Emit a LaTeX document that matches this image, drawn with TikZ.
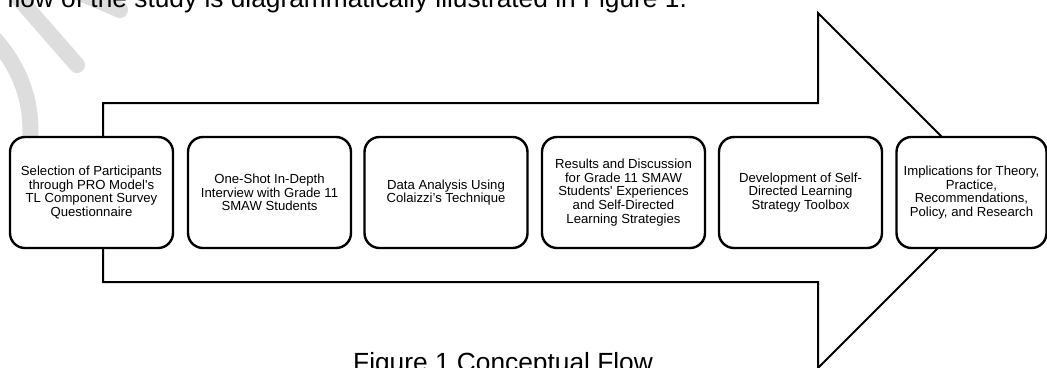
\documentclass[tikz,border=0pt]{standalone}
\usepackage{fontspec}
\setmainfont{Liberation Sans}
\usepackage{tikz}
\pgfdeclarelayer{bg}
\pgfsetlayers{bg,main}
\definecolor{wmgrey}{RGB}{221,221,221}
\tikzset{
    stage/.style={rectangle, draw, fill=white, line width=2.4bp, rounded corners=15bp,
        minimum width=163bp, minimum height=111bp, inner sep=0bp, align=center,
        font=\fontsize{13.2}{13.8}\selectfont}
}
\tikzset{plain/.style={inner sep=0bp, anchor=base west, font=\fontsize{26.4}{30}\selectfont}}
\tikzset{wm/.style={wmgrey, line width=16bp, line cap=round}}

\begin{document}
\begin{tikzpicture}[x=1bp, y=-1bp]
    \useasboundingbox (0,0) rectangle (1047,367);

    \coordinate (tl) at (103, 103);
    \coordinate (nt) at (818, 103);
    \coordinate (ht) at (818, 13);
    \coordinate (tip) at (995.5, 190.5);
    \coordinate (hb) at (818, 368);
    \coordinate (nb) at (818, 282);
    \coordinate (bl) at (103, 282);

    \node (lead) [plain] at (7, 7) {flow of the study is diagrammatically illustrated in Figure 1.};
    \node (caption) [plain] at (353, 371) {Figure 1 Conceptual Flow};

    \node (s1) [stage] at (91.5, 192.5) {Selection of Participants\\through PRO Model\textquotesingle s\\TL Component Survey\\Questionnaire};
    \node (s2) [stage] at (269.5, 192.5) {One-Shot In-Depth\\Interview with Grade 11\\SMAW Students};
    \node (s3) [stage] at (446, 192.5) {Data Analysis Using\\Colaizzi’s Technique};
    \node (s4) [stage] at (623.5, 192.5) {Results and Discussion\\for Grade 11 SMAW\\Students\textquotesingle\ Experiences\\and Self-Directed\\Learning Strategies};
    \node (s5) [stage] at (800.5, 192.5) {Development of Self-\\Directed Learning\\Strategy Toolbox};
    \node (s6) [stage, minimum width=150bp] at (971.5, 192.5) {Implications for Theory,\\Practice,\\Recommendations,\\Policy, and Research};

    \begin{pgfonlayer}{bg}
        % watermark
        \draw[wm] (15, -6) -- (77, 65);
        \draw[wm] (45, -22) -- (120, 10);
        \draw[wm] (-8, 36) .. controls (25, 72) and (36, 112) .. (28, 160);
        % arrow
        \draw[line width=2bp, line join=miter] (tl) -- (nt) -- (ht) -- (tip) -- (hb) -- (nb) -- (bl) -- cycle;
    \end{pgfonlayer}
\end{tikzpicture}
\end{document}
